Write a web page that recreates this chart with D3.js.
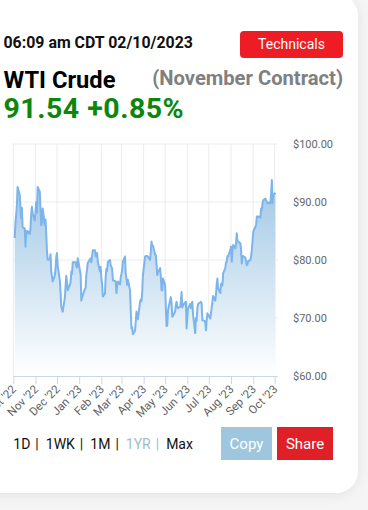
<!DOCTYPE html>
<html>
<head>
<meta charset="utf-8">
<script src="https://cdn.jsdelivr.net/npm/d3@7"></script>
<style>
html,body{margin:0;padding:0;background:#f5f5f5;}
svg{display:block;font-family:Roboto,"Noto Sans",sans-serif;}
</style>
</head>
<body>
<svg id="c" width="368" height="510"></svg>
<script>
const dates = [
"2022-10-03","2022-10-04","2022-10-05","2022-10-06","2022-10-07","2022-10-10","2022-10-11","2022-10-12","2022-10-13","2022-10-14",
"2022-10-17","2022-10-18","2022-10-19","2022-10-20","2022-10-21","2022-10-24","2022-10-25","2022-10-26","2022-10-27","2022-10-28",
"2022-10-31","2022-11-01","2022-11-02","2022-11-03","2022-11-04","2022-11-07","2022-11-08","2022-11-09","2022-11-10","2022-11-11",
"2022-11-14","2022-11-15","2022-11-16","2022-11-17","2022-11-18","2022-11-21","2022-11-22","2022-11-23","2022-11-25","2022-11-28",
"2022-11-29","2022-11-30","2022-12-01","2022-12-02","2022-12-05","2022-12-06","2022-12-07","2022-12-08","2022-12-09","2022-12-12",
"2022-12-13","2022-12-14","2022-12-15","2022-12-16","2022-12-19","2022-12-20","2022-12-21","2022-12-22","2022-12-23","2022-12-27",
"2022-12-28","2022-12-29","2022-12-30","2023-01-03","2023-01-04","2023-01-05","2023-01-06","2023-01-09","2023-01-10","2023-01-11",
"2023-01-12","2023-01-13","2023-01-17","2023-01-18","2023-01-19","2023-01-20","2023-01-23","2023-01-24","2023-01-25","2023-01-26",
"2023-01-27","2023-01-30","2023-01-31","2023-02-01","2023-02-02","2023-02-03","2023-02-06","2023-02-07","2023-02-08","2023-02-09",
"2023-02-10","2023-02-13","2023-02-14","2023-02-15","2023-02-16","2023-02-17","2023-02-21","2023-02-22","2023-02-23","2023-02-24",
"2023-02-27","2023-02-28","2023-03-01","2023-03-02","2023-03-03","2023-03-06","2023-03-07","2023-03-08","2023-03-09","2023-03-10",
"2023-03-13","2023-03-14","2023-03-15","2023-03-16","2023-03-17","2023-03-20","2023-03-21","2023-03-22","2023-03-23","2023-03-24",
"2023-03-27","2023-03-28","2023-03-29","2023-03-30","2023-03-31","2023-04-03","2023-04-04","2023-04-05","2023-04-06","2023-04-10",
"2023-04-11","2023-04-12","2023-04-13","2023-04-14","2023-04-17","2023-04-18","2023-04-19","2023-04-20","2023-04-21","2023-04-24",
"2023-04-25","2023-04-26","2023-04-27","2023-04-28","2023-05-01","2023-05-02","2023-05-03","2023-05-04","2023-05-05","2023-05-08",
"2023-05-09","2023-05-10","2023-05-11","2023-05-12","2023-05-15","2023-05-16","2023-05-17","2023-05-18","2023-05-19","2023-05-22",
"2023-05-23","2023-05-24","2023-05-25","2023-05-26","2023-05-30","2023-05-31","2023-06-01","2023-06-02","2023-06-05","2023-06-06",
"2023-06-07","2023-06-08","2023-06-09","2023-06-12","2023-06-13","2023-06-14","2023-06-15","2023-06-16","2023-06-20","2023-06-21",
"2023-06-22","2023-06-23","2023-06-26","2023-06-27","2023-06-28","2023-06-29","2023-06-30","2023-07-03","2023-07-05","2023-07-06",
"2023-07-07","2023-07-10","2023-07-11","2023-07-12","2023-07-13","2023-07-14","2023-07-17","2023-07-18","2023-07-19","2023-07-20",
"2023-07-21","2023-07-24","2023-07-25","2023-07-26","2023-07-27","2023-07-28","2023-07-31","2023-08-01","2023-08-02","2023-08-03",
"2023-08-04","2023-08-07","2023-08-08","2023-08-09","2023-08-10","2023-08-11","2023-08-14","2023-08-15","2023-08-16","2023-08-17",
"2023-08-18","2023-08-21","2023-08-22","2023-08-23","2023-08-24","2023-08-25","2023-08-28","2023-08-29","2023-08-30","2023-08-31",
"2023-09-01","2023-09-05","2023-09-06","2023-09-07","2023-09-08","2023-09-11","2023-09-12","2023-09-13","2023-09-14","2023-09-15",
"2023-09-18","2023-09-19","2023-09-20","2023-09-21","2023-09-22","2023-09-25","2023-09-26","2023-09-27","2023-09-28","2023-09-29",
"2023-10-02"
];
const prices = [
83.8,86.5,87.8,89.5,92.6,91.2,89.2,87.2,89.0,85.7,
85.4,82.3,85.0,84.5,85.0,84.5,85.5,87.9,89.2,88.0,
86.8,88.4,90.0,88.2,92.6,91.8,88.9,86.0,86.5,88.9,
86.0,87.0,84.5,81.6,80.1,80.1,81.0,77.9,76.3,77.3,
78.5,80.6,81.2,79.0,76.5,74.3,72.0,71.5,71.1,73.5,
75.5,77.3,76.1,74.8,75.7,76.2,78.0,77.6,79.6,79.6,
78.9,78.7,80.3,77.5,73.0,73.6,73.9,75.0,75.2,77.5,
78.4,79.5,80.3,79.6,80.7,81.7,81.7,80.6,80.9,81.2,
79.7,78.0,78.8,76.8,75.9,73.7,74.2,77.1,78.5,78.1,
79.7,80.0,79.1,78.8,78.5,76.5,76.3,74.3,75.5,76.3,
75.8,77.0,77.6,78.3,79.7,80.6,77.6,76.8,75.7,76.6,
74.8,71.3,68.2,68.4,67.2,67.8,69.4,71.1,70.0,69.8,
72.8,73.2,72.9,74.4,77.4,80.6,80.7,80.7,80.7,80.0,
81.5,83.2,82.4,82.5,80.9,80.8,79.2,77.4,77.9,78.6,
77.1,74.8,74.8,76.8,75.7,71.7,68.6,68.8,71.3,73.1,
73.6,72.6,70.2,70.4,71.1,72.3,72.8,71.9,71.7,71.9,
72.9,74.5,71.8,72.2,72.8,68.2,70.1,71.7,72.4,71.7,
72.5,72.8,70.5,67.4,70.0,69.5,71.7,72.4,72.8,72.5,
69.6,69.6,69.4,67.9,69.6,70.8,70.6,69.9,71.8,72.8,
73.8,73.0,74.0,75.8,76.8,75.1,74.3,75.8,76.0,75.6,
77.7,78.6,79.6,79.7,80.7,80.6,81.7,82.3,79.7,81.6,
82.6,82.0,82.8,84.6,83.2,83.2,82.9,81.9,79.4,80.6,
80.7,80.4,79.8,79.1,79.3,79.8,80.0,80.6,81.6,83.2,
84.9,86.0,87.5,87.5,87.5,87.3,88.9,88.6,89.8,90.3,
90.6,90.3,90.0,89.8,89.9,89.8,91.5,93.8,89.8,91.2,
91.6
];
const xTickDates = ["2022-10-01","2022-11-01","2022-12-01","2023-01-01","2023-02-01","2023-03-01","2023-04-01","2023-05-01","2023-06-01","2023-07-01","2023-08-01","2023-09-01","2023-10-01"];
const xTickLabels = ["Oct '22","Nov '22","Dec '22","Jan '23","Feb '23","Mar '23","Apr '23","May '23","Jun '23","Jul '23","Aug '23","Sep '23","Oct '23"];
const yTicks = [60,70,80,90,100];
const yTickLabels = ["$60.00","$70.00","$80.00","$90.00","$100.00"];
const ranges = ["1D","1WK","1M","1YR","Max"];
const activeRange = "1YR";

const parse = d3.utcParse("%Y-%m-%d");
const data = dates.map((d,i)=>({date:parse(d), v:prices[i]}));
const tickDates = xTickDates.map(parse);

const svg = d3.select("#c");
const defs = svg.append("defs");
const sh = defs.append("filter").attr("id","sh").attr("x","-20%").attr("y","-20%").attr("width","140%").attr("height","140%");
sh.append("feDropShadow").attr("dx",0).attr("dy",2).attr("stdDeviation",6).attr("flood-color","#000").attr("flood-opacity",0.08);

svg.append("rect").attr("width",368).attr("height",510).attr("fill","#f5f5f5");
svg.append("rect").attr("x",-40).attr("y",-6).attr("width",398).attr("height",499).attr("rx",22)
  .attr("fill","#fff").attr("filter","url(#sh)");

// header
svg.append("text").attr("x",3.5).attr("y",48).attr("font-size",15.9).attr("font-weight",700).attr("fill","#111")
  .text("06:09 am CDT 02/10/2023");
svg.append("rect").attr("x",240).attr("y",31).attr("width",103).attr("height",27).attr("rx",4).attr("fill","#ee1c25");
svg.append("text").attr("x",291.5).attr("y",49).attr("text-anchor","middle").attr("font-size",14).attr("fill","#fff").text("Technicals");
svg.append("text").attr("x",3.5).attr("y",87.5).attr("font-size",23.7).attr("font-weight",700).attr("fill","#000").text("WTI Crude");
svg.append("text").attr("x",343).attr("y",85).attr("text-anchor","end").attr("font-size",20.2).attr("font-weight",700).attr("fill","#808080").text("(November Contract)");
svg.append("text").attr("x",3.5).attr("y",118).attr("font-size",28.5).attr("font-weight",700).attr("letter-spacing",0.5)
  .attr("fill","#0c870c").text("91.54 +0.85%");

// chart
const x = d3.scaleUtc().domain([tickDates[0], tickDates[tickDates.length-1]]).range([13.3, 274.7]);
const y = d3.scaleLinear().domain([60,100]).range([376,144]);
const plotRight = 277.7;

const grad = defs.append("linearGradient").attr("id","ag").attr("gradientUnits","userSpaceOnUse")
  .attr("x1",0).attr("y1",y(100)).attr("x2",0).attr("y2",y(60));
grad.append("stop").attr("offset",0).attr("stop-color","#8fbde0");
grad.append("stop").attr("offset",1).attr("stop-color","#ffffff");

const g = svg.append("g");
g.selectAll(".hg").data(yTicks.filter(t=>t>60)).join("line")
  .attr("x1",13.3).attr("x2",plotRight).attr("y1",d=>y(d)).attr("y2",d=>y(d))
  .attr("stroke","#ececec").attr("stroke-width",1);
g.selectAll(".vg").data(tickDates).join("line")
  .attr("x1",d=>x(d)).attr("x2",d=>x(d)).attr("y1",y(100)).attr("y2",y(60))
  .attr("stroke","#ececec").attr("stroke-width",1);

const area = d3.area().x(d=>x(d.date)).y0(y(60)).y1(d=>y(d.v)).curve(d3.curveLinear);
const line = d3.line().x(d=>x(d.date)).y(d=>y(d.v)).curve(d3.curveLinear);
g.append("path").datum(data).attr("d",area).attr("fill","url(#ag)");
g.append("path").datum(data).attr("d",line).attr("fill","none").attr("stroke","#7cb5ec").attr("stroke-width",2).attr("stroke-linejoin","round");

// x axis
const xAxis = d3.axisBottom(x).tickValues(tickDates).tickSize(8).tickFormat((d,i)=>xTickLabels[i]);
const xa = svg.append("g").attr("transform",`translate(0,${y(60)})`).call(xAxis);
xa.select(".domain").attr("d",`M13.3,0.5H${plotRight}`).attr("stroke","#ccd6eb");
xa.selectAll(".tick line").attr("stroke","#ccd6eb");
xa.selectAll(".tick text").attr("fill","#5f5f5f").attr("font-size",11.5).attr("font-family","Roboto,sans-serif")
  .attr("text-anchor","end").attr("dy",null).attr("y",null)
  .attr("transform","translate(3,14) rotate(-45)");

// y axis (labels on right)
const ya = svg.append("g");
ya.selectAll("text").data(yTicks).join("text")
  .attr("x",293).attr("y",d=>y(d)+4).attr("font-size",11).attr("fill","#666")
  .text((d,i)=>yTickLabels[i]);

// bottom controls
const bt = svg.append("text").attr("x",13.3).attr("y",448.5).attr("font-size",14).attr("fill","#111");
ranges.forEach((r,i)=>{
  const active = r===activeRange;
  bt.append("tspan").attr("dx",i===0?0:7).attr("fill",active?"#9dbfcc":"#111").text(r);
  if(i<ranges.length-1) bt.append("tspan").attr("dx",5).attr("fill",active?"#9dbfcc":"#111").text("|");
});
svg.append("rect").attr("x",221).attr("y",427).attr("width",51).attr("height",33).attr("fill","#9ec7df");
svg.append("text").attr("x",246.5).attr("y",449).attr("text-anchor","middle").attr("font-size",15).attr("fill","#fff").text("Copy");
svg.append("rect").attr("x",277).attr("y",427).attr("width",56).attr("height",33).attr("fill","#e02027");
svg.append("text").attr("x",305).attr("y",449).attr("text-anchor","middle").attr("font-size",15).attr("fill","#fff").text("Share");
</script>
</body>
</html>
